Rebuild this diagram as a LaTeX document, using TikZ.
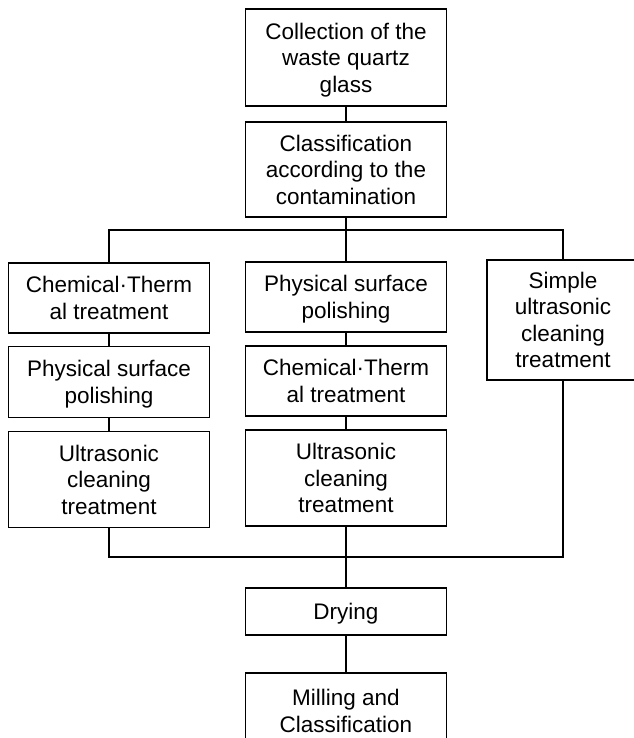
\documentclass[tikz,border=0pt]{standalone}
\usepackage{fontspec}
\setmainfont{Liberation Sans}
\usepackage{tikz}
\usetikzlibrary{shapes}
\tikzstyle{stage} = [rectangle, minimum width=201pt, text centered, text depth=0pt, draw=black, line width=1.5pt, inner sep=2pt, font=\fontsize{22.5}{26.5}\selectfont]
\tikzstyle{narrow} = [stage, minimum width=152pt]
\tikzstyle{line} = [line width=1.5pt]

\begin{document}
\begin{tikzpicture}[node distance=84pt, align=center, x=1pt, y=1pt]
    \useasboundingbox (0,0) rectangle (633,-738);
    % Nodes
    \node (collect) [stage, minimum height=97pt] at (346,-57.5) {Collection of the\\waste quartz\\glass};
    \node (classify) [stage, minimum height=95pt, below of=collect, yshift=-28pt] {Classification\\according to the\\contamination};
    \node (chem1) [stage, minimum height=70pt, below of=classify, xshift=-237pt, yshift=-44.5pt] {Chemical·Therm\\al treatment};
    \node (phys1) [stage, minimum height=71pt, below of=chem1] {Physical surface\\polishing};
    \node (ultra1) [stage, minimum height=96pt, below of=phys1, yshift=-13.5pt] {Ultrasonic\\cleaning\\treatment};
    \node (phys2) [stage, minimum height=70pt, below of=classify, yshift=-43.5pt] {Physical surface\\polishing};
    \node (chem2) [stage, minimum height=70pt, below of=phys2] {Chemical·Therm\\al treatment};
    \node (ultra2) [stage, minimum height=96pt, below of=chem2, yshift=-13pt] {Ultrasonic\\cleaning\\treatment};
    \node (simple) [narrow, minimum height=120pt, below of=classify, xshift=217pt, yshift=-66.5pt] {Simple\\ultrasonic\\cleaning\\treatment};
    \node (drying) [stage, minimum height=47pt, below of=ultra2, yshift=-49.5pt] {Drying};
    \node (milling) [stage, minimum height=76pt, below of=drying, yshift=-15.5pt] {Milling and\\Classification};
    \coordinate (split) at (346,-230);
    \coordinate (merge) at (346,-557);

    % Lines
    \draw [line] (collect) -- (classify);
    \draw [line] (classify) -- (split);
    \draw [line] (chem1) |- (split);
    \draw [line] (simple) |- (split);
    \draw [line] (split) -- (phys2);
    \draw [line] (chem1) -- (phys1);
    \draw [line] (phys1) -- (ultra1);
    \draw [line] (phys2) -- (chem2);
    \draw [line] (chem2) -- (ultra2);
    \draw [line] (ultra1) |- (merge);
    \draw [line] (simple) |- (merge);
    \draw [line] (ultra2) -- (drying);
    \draw [line] (drying) -- (milling);

  \end{tikzpicture}
\end{document}
